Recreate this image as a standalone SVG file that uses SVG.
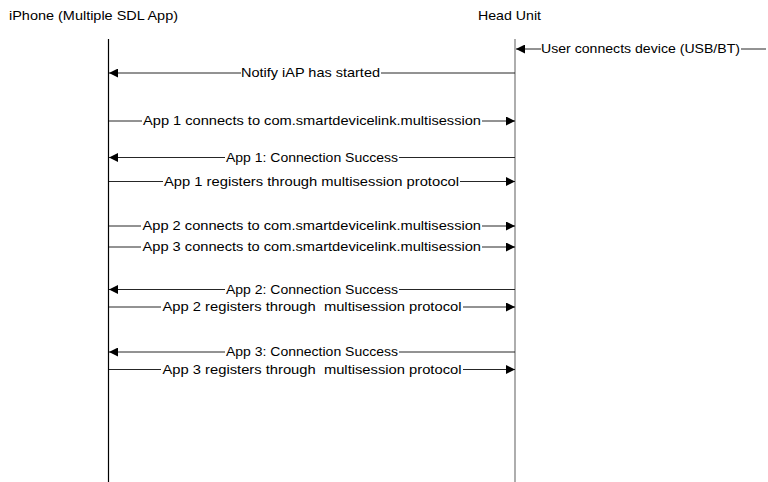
<svg xmlns="http://www.w3.org/2000/svg" width="768" height="482" viewBox="0 0 768 482">
<style>
text{font-family:"Liberation Sans",Arial,sans-serif;font-size:13px;fill:#000;white-space:pre}
.msg{fill:none;stroke:#262626;stroke-width:1}
.ll{fill:none;stroke-width:1.2}
</style>
<defs>
<marker id="ah" markerUnits="userSpaceOnUse" markerWidth="9" markerHeight="9" viewBox="0 0 8 8" refX="8" refY="4" orient="auto">
<path d="M0,0 L8,4 L0,8 z" fill="#000"/>
</marker>
</defs>
<rect width="768" height="482" fill="#fff"/>
<g id="iphone">
<text x="9" y="20" textLength="169" lengthAdjust="spacingAndGlyphs">iPhone (Multiple SDL App)</text>
<line class="ll" x1="108.5" y1="39" x2="108.5" y2="482" stroke="#000"/>
</g>
<g id="headunit">
<text x="478" y="20" textLength="63" lengthAdjust="spacingAndGlyphs">Head Unit</text>
<line class="ll" x1="515" y1="39" x2="515" y2="482" stroke="#777"/>
</g>
<g id="connectors">
<path class="msg" d="M766 49H741"/><path class="msg" d="M541 49H516" marker-end="url(#ah)"/>
<text x="541" y="53" textLength="199" lengthAdjust="spacingAndGlyphs">User connects device (USB/BT)</text>

<path class="msg" d="M515 73H381"/><path class="msg" d="M241 73H109" marker-end="url(#ah)"/>
<text x="241" y="77" textLength="139" lengthAdjust="spacingAndGlyphs">Notify iAP has started</text>

<path class="msg" d="M109 121H142"/><path class="msg" d="M482 121H515" marker-end="url(#ah)"/>
<text x="143" y="125" textLength="338" lengthAdjust="spacingAndGlyphs">App 1 connects to com.smartdevicelink.multisession</text>

<path class="msg" d="M515 157.5H399"/><path class="msg" d="M225 157.5H109" marker-end="url(#ah)"/>
<text x="226" y="161.5" textLength="172" lengthAdjust="spacingAndGlyphs">App 1: Connection Success</text>

<path class="msg" d="M109 181.5H163"/><path class="msg" d="M460 181.5H515" marker-end="url(#ah)"/>
<text x="164" y="185.5" textLength="295" lengthAdjust="spacingAndGlyphs">App 1 registers through multisession protocol</text>

<path class="msg" d="M109 226H141"/><path class="msg" d="M482 226H515" marker-end="url(#ah)"/>
<text x="142.5" y="230" textLength="338.5" lengthAdjust="spacingAndGlyphs">App 2 connects to com.smartdevicelink.multisession</text>

<path class="msg" d="M109 247H141"/><path class="msg" d="M482 247H515" marker-end="url(#ah)"/>
<text x="142.5" y="251" textLength="338.5" lengthAdjust="spacingAndGlyphs">App 3 connects to com.smartdevicelink.multisession</text>

<path class="msg" d="M515 289.5H399"/><path class="msg" d="M225 289.5H109" marker-end="url(#ah)"/>
<text x="226" y="293.5" textLength="172" lengthAdjust="spacingAndGlyphs">App 2: Connection Success</text>

<path class="msg" d="M109 307H161"/><path class="msg" d="M463 307H515" marker-end="url(#ah)"/>
<text x="162.5" y="311" textLength="299" lengthAdjust="spacingAndGlyphs" xml:space="preserve">App 2 registers through  multisession protocol</text>

<path class="msg" d="M515 352H399"/><path class="msg" d="M225 352H109" marker-end="url(#ah)"/>
<text x="226" y="356" textLength="172" lengthAdjust="spacingAndGlyphs">App 3: Connection Success</text>

<path class="msg" d="M109 369.5H161"/><path class="msg" d="M463 369.5H515" marker-end="url(#ah)"/>
<text x="162.5" y="373.5" textLength="299" lengthAdjust="spacingAndGlyphs" xml:space="preserve">App 3 registers through  multisession protocol</text>
</g>
</svg>
